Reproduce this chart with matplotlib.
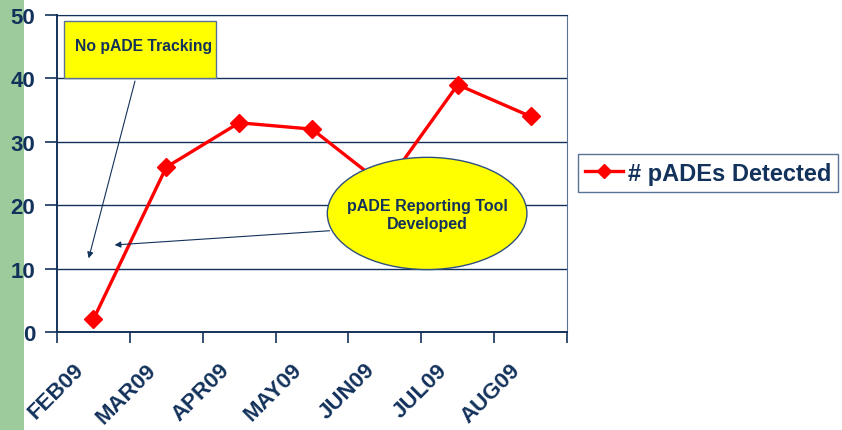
import matplotlib.pyplot as plt
from matplotlib.patches import Ellipse, Rectangle

plt.rcParams['font.family'] = ['Liberation Sans', 'DejaVu Sans']

months = ["FEB09", "MAR09", "APR09", "MAY09", "JUN09", "JUL09", "AUG09"]
detected = [2, 26, 33, 32, 23, 39, 34]
yticks = [0, 10, 20, 30, 40, 50]

navy = "#13325B"
x = list(range(len(months)))

fig = plt.figure(figsize=(8.42, 4.31), dpi=100)
fig.patches.append(Rectangle((0, 0), 24 / 842, 1, transform=fig.transFigure,
                             facecolor="#9DCB9B", edgecolor="none", zorder=-1))

ax = fig.add_axes([57 / 842, 1 - 333 / 431, 510 / 842, 317 / 431])
ax.set_xlim(-0.5, len(months) - 0.5)
ax.set_ylim(0, 50)

for v in yticks[1:]:
    ax.axhline(v, color=navy, lw=1.0, zorder=1)

ax.plot(x, detected, color="#FF0000", lw=2.4, marker="D", markersize=9.5,
        label="# pADEs Detected", zorder=3)

ax.set_yticks(yticks)
ax.set_yticklabels([str(v) for v in yticks], fontsize=16, fontweight="bold", color=navy)
ax.set_xticks([i - 0.5 for i in range(len(months) + 1)])
ax.set_xticklabels([])
# rotated labels sit a bit left of the category centre
ax.set_xticks([i - 0.08 for i in x], minor=True)
ax.set_xticklabels(months, minor=True, rotation=45, ha="right", va="top",
                   fontsize=16, fontweight="bold", color=navy)
ax.tick_params(axis="x", which="minor", length=0, pad=19.5)
ax.tick_params(axis="x", which="major", length=8, color=navy, width=1.2)
ax.tick_params(axis="y", length=9, color=navy, width=1.2, pad=6.5)
for s in ["left", "bottom"]:
    ax.spines[s].set_color(navy)
    ax.spines[s].set_linewidth(1.4)
ax.spines["right"].set_color("#5A7296")
ax.spines["top"].set_color(navy)

# annotations
ax.add_patch(Rectangle((-0.404, 40.0), 2.08, 9.0, facecolor="#FFFF00",
                       edgecolor="#5A7296", lw=1.0, zorder=4))
ax.text(0.69, 45.2, "No pADE Tracking", ha="center", va="center",
        fontsize=11.3, fontweight="bold", color=navy, zorder=5)
ax.annotate("", xy=(-0.075, 11.2), xytext=(0.58, 40.0),
            arrowprops=dict(arrowstyle="-|>", color=navy, lw=0.8,
                            mutation_scale=9), zorder=4)

ax.add_patch(Ellipse((4.58, 18.7), 2.74, 17.7, facecolor="#FFFF00",
                     edgecolor="#2F4F7F", lw=1.0, zorder=4))
ax.text(4.58, 18.5, "pADE Reporting Tool\nDeveloped", ha="center", va="center",
        fontsize=11.5, fontweight="bold", color=navy, linespacing=1.25, zorder=5)
ax.annotate("", xy=(0.253, 13.7), xytext=(3.28, 16.0),
            arrowprops=dict(arrowstyle="-|>", color=navy, lw=0.8,
                            mutation_scale=9), zorder=3)

leg = fig.legend(loc="center left", bbox_to_anchor=(578 / 842, 1 - 174 / 431),
                 borderaxespad=0, fancybox=False, framealpha=1, edgecolor="#5A7296",
                 prop={"size": 17, "weight": "bold"}, handlelength=1.6,
                 borderpad=0.3, handletextpad=0.2, markerscale=0.8)
for t in leg.get_texts():
    t.set_color(navy)

plt.savefig("out.png", dpi=100)
